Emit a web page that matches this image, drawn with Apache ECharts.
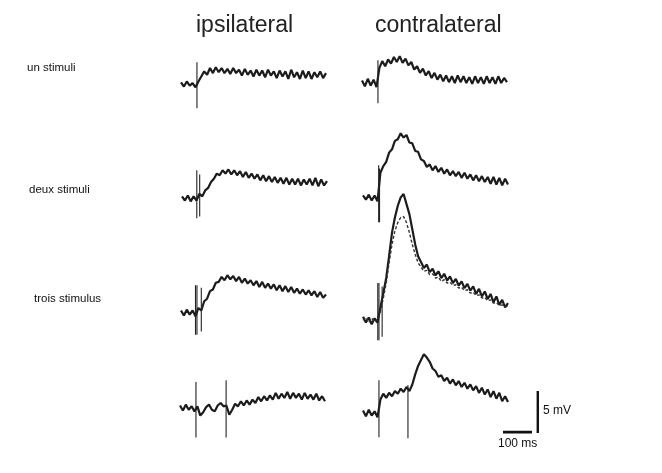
<!DOCTYPE html>
<html><head><meta charset="utf-8">
<script src="https://cdn.jsdelivr.net/npm/echarts@6/dist/echarts.min.js"></script>
<style>html,body{margin:0;padding:0;background:#fff}#c{width:662px;height:473px}</style>
</head><body><div id="c"></div>
<script>
// ---- data (mV, sampled every 10 ms from 0 to 500 ms) ----
const columnTitles = ['ipsilateral', 'contralateral'];
const rowLabels = ['un stimuli', 'deux stimuli', 'trois stimulus', ''];
const STEP_MS = 10;

const ipsi1 = [0.2,-0.3,0.3,-0.2,0.1,-0.4,0.3,0.9,1.5,1.1,
  1.9,1.3,2.0,1.4,1.9,1.3,1.8,1.2,1.9,1.3,
  1.7,1.0,1.8,1.1,1.6,0.9,1.7,1.0,1.6,0.8,
  1.7,1.0,1.5,0.7,1.6,0.9,1.5,0.6,1.7,0.8,
  1.4,0.6,1.6,0.7,1.5,0.6,1.4,0.8,1.5,0.7,1.3];
const contra1 = [0.3,-0.4,0.5,-0.3,0.4,-0.5,1.8,2.6,2.0,2.8,
  2.3,3.1,2.5,3.2,2.4,2.9,2.1,2.5,1.6,2.0,
  1.2,1.7,0.9,1.4,0.6,1.2,0.4,1.0,0.2,0.9,
  0.1,0.8,0.0,0.9,0.1,0.8,0.0,0.7,-0.1,0.8,
  0.0,0.7,-0.1,0.8,0.0,0.7,-0.1,0.8,0.0,0.6,0.1];
const ipsi2 = [0.2,-0.3,0.3,-0.4,0.2,-0.3,0.5,0.2,0.9,1.2,
  1.9,2.3,2.9,2.7,3.3,2.9,3.4,2.8,3.3,2.7,
  3.2,2.5,3.1,2.4,2.9,2.3,2.8,2.1,2.7,2.0,
  2.6,1.9,2.5,1.8,2.4,1.7,2.4,1.6,2.3,1.6,
  2.3,1.5,2.2,1.6,2.3,1.5,2.4,1.4,2.2,1.5,2.0];
const contra2 = [0.3,-0.2,0.4,-0.3,0.3,-0.4,3.0,3.8,4.3,5.4,
  5.8,6.8,7.0,7.7,7.2,7.5,6.6,6.5,5.6,5.5,
  4.6,4.4,3.7,4.0,3.3,3.8,3.1,3.6,2.9,3.4,
  2.7,3.2,2.6,3.1,2.4,3.0,2.3,2.8,2.1,2.7,
  2.0,2.6,1.9,2.5,1.7,2.5,1.6,2.4,1.5,2.3,1.6];
const ipsi3 = [0.3,-0.3,0.4,-0.2,0.3,-0.4,0.6,0.3,1.4,1.7,
  2.6,2.8,3.6,3.7,4.3,3.9,4.5,4.0,4.4,3.8,
  4.3,3.6,4.1,3.5,3.9,3.3,3.8,3.1,3.7,3.0,
  3.5,2.9,3.4,2.7,3.3,2.6,3.2,2.5,3.1,2.4,
  2.9,2.3,2.8,2.2,2.7,2.1,2.6,1.9,2.5,1.8,2.2];
const contra3 = [0.4,-0.3,0.3,-0.5,0.2,-0.3,1.5,3.2,5.0,7.6,
  10.4,12.2,13.6,14.6,15.0,13.8,12.6,10.8,9.0,7.6,
  6.9,6.2,6.6,5.7,6.1,5.3,5.8,5.0,5.5,4.7,
  5.2,4.4,4.9,4.1,4.6,3.8,4.3,3.5,4.0,3.1,
  3.7,2.8,3.4,2.5,3.1,2.1,2.8,1.8,2.4,1.5,2.0];
const contra3b = [0.0,0.3,-0.3,0.2,-0.2,0.1,1.0,2.6,4.4,6.8,
  9.0,10.6,11.6,12.2,12.3,11.6,10.4,9.0,7.8,6.8,
  6.3,5.8,5.9,5.4,5.5,5.0,5.1,4.6,4.8,4.4,
  4.5,4.1,4.2,3.8,3.9,3.5,3.6,3.2,3.3,2.9,
  3.0,2.6,2.7,2.3,2.4,2.0,2.1,1.7,1.8,1.6,1.7];
const ipsi4 = [0.3,-0.3,0.4,-0.2,0.2,-0.4,0.2,-0.9,-0.5,0.1,
  0.4,-0.2,-0.4,0.3,0.6,0.2,0.3,-0.8,-0.2,0.5,
  0.2,0.8,0.3,0.9,0.4,1.0,0.6,1.3,0.8,1.4,
  0.9,1.5,1.0,1.8,1.1,1.7,1.2,1.9,1.1,1.8,
  1.2,1.7,1.0,1.8,1.1,1.6,1.0,1.7,0.9,1.4,0.8];
const contra4 = [0.3,-0.4,0.4,-0.3,0.2,-0.5,1.6,2.3,1.8,2.4,
  2.0,2.6,2.3,2.9,2.5,3.1,2.6,3.4,4.6,5.6,
  6.3,7.0,6.6,6.1,5.3,5.0,4.3,4.5,3.8,4.2,
  3.5,4.0,3.3,3.8,3.1,3.6,2.9,3.4,2.7,3.2,
  2.4,3.0,2.2,2.8,1.9,2.6,1.7,2.4,1.4,2.0,1.3];

// stimulus artefacts: [time ms, top mV, bottom mV]
const stim1i = [[55, 2.6, -2.9]];
const stim1c = [[55, 2.7, -2.4]];
const stim2i = [[51, 3.3, -2.4], [61, 2.8, -2.2]];
const stim2c = [[54, 3.9, -2.9], [57, 3.5, -2.9]];
const stim3i = [[50, 3.3, -2.6], [55, 3.3, -2.6], [70, 3.0, -2.2]];
const stim3c = [[51, 4.4, -2.4], [55, 4.4, -2.4], [66, 4.0, -2.0]];
const stim4i = [[55, 3.1, -3.5], [159, 3.3, -3.5]];
const stim4c = [[55, 3.9, -2.9], [155, 3.3, -3.0]];

const scaleBarMs = 100;
const scaleBarMv = 5;

// ---- layout ----
const PX_PER_MS = 0.29;
const PX_PER_MV = 8.4;
const panels = [
  {left: 181, base: 84,  traces: [ipsi1],   stims: stim1i},
  {left: 362, base: 83,  traces: [contra1], stims: stim1c},
  {left: 182, base: 198, traces: [ipsi2],   stims: stim2i},
  {left: 363, base: 198, traces: [contra2], stims: stim2c},
  {left: 181, base: 313, traces: [ipsi3],   stims: stim3i},
  {left: 363, base: 320, traces: [contra3, contra3b], stims: stim3c},
  {left: 180, base: 408, traces: [ipsi4],   stims: stim4i},
  {left: 363, base: 413, traces: [contra4], stims: stim4c}
];

const grids = [], xAxes = [], yAxes = [], series = [];
panels.forEach((p, i) => {
  grids.push({left: p.left, top: p.base - 4 * PX_PER_MV, width: 500 * PX_PER_MS, height: 8 * PX_PER_MV});
  xAxes.push({type: 'value', min: 0, max: 500, show: false, gridIndex: i});
  yAxes.push({type: 'value', min: -4, max: 4, show: false, gridIndex: i});
  p.traces.forEach((tr, k) => {
    series.push({
      type: 'line', xAxisIndex: i, yAxisIndex: i, clip: false, silent: true,
      symbol: 'none', animation: false,
      data: tr.map((v, j) => [j * STEP_MS, v]),
      lineStyle: {color: k === 0 ? '#1c1c1c' : '#333', width: k === 0 ? 2.2 : 1.4, type: k === 0 ? 'solid' : [3, 2]}
    });
  });
  p.stims.forEach(s => {
    series.push({
      type: 'line', xAxisIndex: i, yAxisIndex: i, clip: false, silent: true,
      symbol: 'none', animation: false,
      data: [[s[0], s[1]], [s[0], s[2]]],
      lineStyle: {color: '#222', width: 1.1}
    });
  });
});

// scale bars in their own small coordinate system (same ms / mV scale)
const sbi = panels.length;
grids.push({left: 503, top: 433 - 5.5 * PX_PER_MV, width: 125 * PX_PER_MS, height: 6 * PX_PER_MV});
xAxes.push({type: 'value', min: 0, max: 125, show: false, gridIndex: sbi});
yAxes.push({type: 'value', min: -0.5, max: 5.5, show: false, gridIndex: sbi});
series.push({
  type: 'line', xAxisIndex: sbi, yAxisIndex: sbi, clip: false, silent: true, symbol: 'none', animation: false,
  data: [[0, 0.1], [scaleBarMs, 0.1]], lineStyle: {color: '#111', width: 2.6}
});
series.push({
  type: 'line', xAxisIndex: sbi, yAxisIndex: sbi, clip: false, silent: true, symbol: 'none', animation: false,
  data: [[120, 0], [120, scaleBarMv]], lineStyle: {color: '#111', width: 2.4}
});

const FONT = '"Liberation Sans", Arial, sans-serif';
const graphics = [
  {type: 'text', left: 196, top: 14, style: {text: columnTitles[0], font: '23px ' + FONT, fill: '#222'}},
  {type: 'text', left: 375, top: 14, style: {text: columnTitles[1], font: '23px ' + FONT, fill: '#222'}},
  {type: 'text', left: 27, top: 62, style: {text: rowLabels[0], font: '11.5px ' + FONT, fill: '#111'}},
  {type: 'text', left: 29, top: 184, style: {text: rowLabels[1], font: '11.5px ' + FONT, fill: '#111'}},
  {type: 'text', left: 34, top: 293, style: {text: rowLabels[2], font: '11.5px ' + FONT, fill: '#111'}},
  {type: 'text', left: 543, top: 405, style: {text: scaleBarMv + ' mV', font: '12px ' + FONT, fill: '#111'}},
  {type: 'text', left: 498, top: 438, style: {text: scaleBarMs + ' ms', font: '12px ' + FONT, fill: '#111'}}
];

const chart = echarts.init(document.getElementById('c'), null, {renderer: 'canvas'});
chart.setOption({
  animation: false,
  backgroundColor: '#fff',
  grid: grids, xAxis: xAxes, yAxis: yAxes, series: series,
  graphic: graphics
});
</script></body></html>
